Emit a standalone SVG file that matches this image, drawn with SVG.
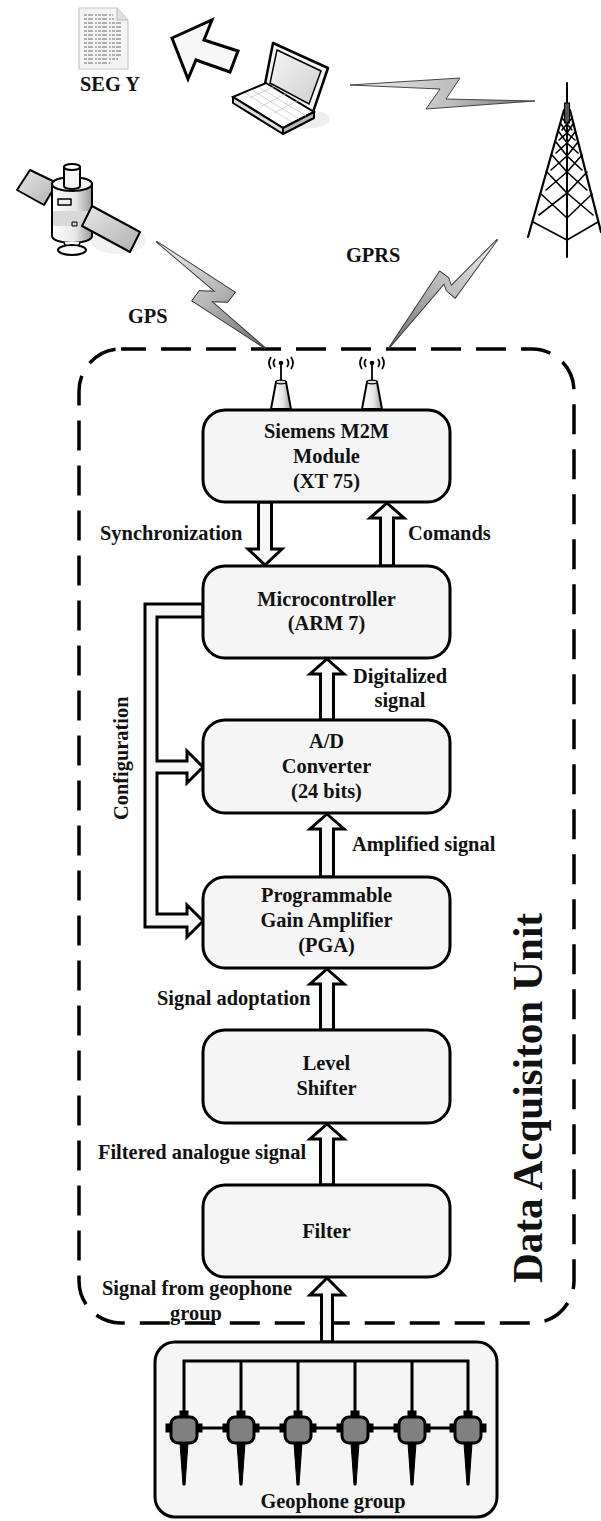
<svg xmlns="http://www.w3.org/2000/svg" width="601" height="1521" viewBox="0 0 601 1521">
  <style>
    .box { fill:#f5f5f5; stroke:#000; stroke-width:3; }
    .arr { fill:#f7f7f7; stroke:#000; stroke-width:3; stroke-linejoin:miter; }
    .t { font-family:"Liberation Serif","Times New Roman",serif; font-weight:bold; font-size:20.4px; fill:#111; }
    .c { text-anchor:middle; }
    .edge { fill:none; stroke:#333; stroke-width:1.8; stroke-linejoin:round; }
    .ln { stroke:#000; fill:none; }
  </style>
  <defs>
    <linearGradient id="boltH" gradientUnits="userSpaceOnUse" x1="350" y1="78" x2="535" y2="110">
      <stop offset="0" stop-color="#f0f0f0"/>
      <stop offset="0.55" stop-color="#bdbdbd"/>
      <stop offset="1" stop-color="#707070"/>
    </linearGradient>
    <linearGradient id="boltGps" gradientUnits="userSpaceOnUse" x1="157" y1="242" x2="265" y2="348">
      <stop offset="0" stop-color="#f0f0f0"/>
      <stop offset="0.5" stop-color="#b8b8b8"/>
      <stop offset="1" stop-color="#6c6c6c"/>
    </linearGradient>
    <linearGradient id="boltGprs" gradientUnits="userSpaceOnUse" x1="497" y1="240" x2="389" y2="348">
      <stop offset="0" stop-color="#eeeeee"/>
      <stop offset="0.5" stop-color="#b8b8b8"/>
      <stop offset="1" stop-color="#6c6c6c"/>
    </linearGradient>
    <linearGradient id="metal" x1="0" y1="0" x2="1" y2="0">
      <stop offset="0" stop-color="#ffffff"/>
      <stop offset="0.6" stop-color="#e6e6e6"/>
      <stop offset="1" stop-color="#9a9a9a"/>
    </linearGradient>
    <linearGradient id="panel" x1="0" y1="0" x2="1" y2="1">
      <stop offset="0" stop-color="#e8e8e8"/>
      <stop offset="1" stop-color="#b0b0b0"/>
    </linearGradient>
    <linearGradient id="screen" x1="0" y1="0" x2="1" y2="1">
      <stop offset="0" stop-color="#f6f6f6"/>
      <stop offset="1" stop-color="#cfcfcf"/>
    </linearGradient>
  </defs>

  <!-- SEG Y document -->
  <g id="segy">
    <path d="M79,8 H117 L128,20 V69 H79 Z" fill="#f3f3f3" stroke="#c8c8c8" stroke-width="1.2"/>
    <path d="M117,8 V20 H128" fill="#e0e0e0" stroke="#bbb" stroke-width="1"/>
    <g stroke="#6f6f6f" stroke-width="1.1" stroke-dasharray="3 1 5 2 2 1">
      <line x1="84" y1="15" x2="113" y2="15"/>
      <line x1="84" y1="19" x2="114" y2="19"/>
      <line x1="84" y1="23" x2="123" y2="23"/>
      <line x1="84" y1="27" x2="123" y2="27"/>
      <line x1="84" y1="31" x2="123" y2="31"/>
      <line x1="84" y1="35" x2="123" y2="35"/>
      <line x1="84" y1="39" x2="123" y2="39"/>
      <line x1="84" y1="43" x2="123" y2="43"/>
      <line x1="84" y1="47" x2="123" y2="47"/>
      <line x1="84" y1="51" x2="123" y2="51"/>
      <line x1="84" y1="55" x2="123" y2="55"/>
      <line x1="84" y1="59" x2="118" y2="59"/>
      <line x1="84" y1="63" x2="110" y2="63"/>
    </g>
    <text class="t" x="80" y="91">SEG Y</text>
  </g>

  <!-- export arrow -->
  <g id="export-arrow">
    <polygon class="arr" points="172,38 212,20 204,40 238,51 230,72 196,60 188,79"/>
  </g>

  <!-- laptop -->
  <g id="laptop">
    <ellipse cx="302" cy="119" rx="28" ry="10" fill="#eeeeee"/>
    <polygon points="273,43 328,68 313,112 265,84" fill="#f4f4f4" stroke="#000" stroke-width="2.5" stroke-linejoin="round"/>
    <polygon points="277,50 321,71 309,104 270,83" fill="url(#screen)" stroke="#000" stroke-width="1.5"/>
    <polygon points="233,97 266,83 314,112 283,128" fill="#ffffff" stroke="#000" stroke-width="2"/>
    <polygon points="233,97 283,128 283,134 233,103" fill="#dcdcdc" stroke="#000" stroke-width="2" stroke-linejoin="round"/>
    <polygon points="283,128 314,112 314,118 283,134" fill="#b8b8b8" stroke="#000" stroke-width="2" stroke-linejoin="round"/>
    <g stroke="#c8c8c8" stroke-width="0.8">
      <line x1="245" y1="93" x2="292" y2="122"/>
      <line x1="252" y1="90" x2="299" y2="119"/>
      <line x1="259" y1="87" x2="306" y2="116"/>
      <line x1="250" y1="98" x2="275" y2="86"/>
      <line x1="262" y1="106" x2="287" y2="93"/>
      <line x1="274" y1="113" x2="299" y2="100"/>
    </g>
  </g>

  <!-- transmission tower -->
  <g id="tower" stroke="#000" fill="none" stroke-linecap="round">
    <line x1="567" y1="83" x2="567" y2="257" stroke-width="2"/>
    <rect x="564.5" y="103" width="5" height="20" fill="#555" stroke-width="1"/>
    <line x1="564" y1="110" x2="528" y2="237" stroke-width="2.2"/>
    <line x1="570" y1="110" x2="601" y2="232" stroke-width="2.2"/>
    <g stroke-width="1.6">
      <polyline points="562,118 567,124 572,118"/>
      <polyline points="561,124 567,133 573,124"/>
      <polyline points="559,132 567,143 575,132"/>
      <polyline points="556,142 567,156 578,142"/>
      <polyline points="552,155 567,172 582,155"/>
      <polyline points="547,172 567,193 587,172"/>
      <polyline points="541,194 567,218 592,194"/>
      <polyline points="533,222 567,240 598,222"/>
      <polyline points="562,130 567,124 572,130"/>
      <polyline points="559,140 567,133 575,140"/>
      <polyline points="556,153 567,143 578,153"/>
      <polyline points="551,170 567,156 582,170"/>
      <polyline points="546,190 567,172 587,190"/>
      <polyline points="539,215 567,193 593,215"/>
    </g>
  </g>

  <!-- satellite -->
  <g id="satellite" stroke="#000" stroke-linejoin="round">
    <ellipse cx="118" cy="240" rx="28" ry="14" fill="#f1f1f1" stroke="none"/>
    <polygon points="17,190 30,170 57,183 44,205" fill="url(#panel)" stroke-width="2"/>
    <path d="M52,184 V236 A20,7 0 0 0 92,236 V184 Z" fill="url(#metal)" stroke-width="2"/>
    <ellipse cx="72" cy="184" rx="20" ry="7" fill="#fafafa" stroke-width="2"/>
    <rect x="53" y="211" width="38" height="15" fill="#d9d9d9" stroke="none"/>
    <path d="M64,167 V186 A8,3 0 0 0 80,186 V167 Z" fill="#f5f5f5" stroke-width="2"/>
    <ellipse cx="72" cy="167" rx="8" ry="3" fill="#fff" stroke-width="2"/>
    <rect x="58" y="199" width="13" height="6" fill="#eee" stroke-width="1.5"/>
    <rect x="72" y="222" width="5" height="4" fill="#ccc" stroke-width="1"/>
    <polygon points="92,206 82,226 130,252 140,232" fill="url(#panel)" stroke-width="2"/>
    <path d="M64,242 L66,248 L78,248 L80,242" fill="#fff" stroke-width="1.5"/>
    <ellipse cx="72" cy="250" rx="14" ry="5" fill="#fff" stroke-width="2"/>
  </g>

  <!-- acquisition unit boundary -->
  <g id="acquisition-unit">
    <rect x="79" y="349" width="495" height="974" rx="42" fill="none" stroke="#000" stroke-width="3.5" stroke-dasharray="30 15" stroke-dashoffset="5"/>
    <text class="t" transform="translate(542,1283) rotate(-90)" style="font-size:42px" textLength="370" lengthAdjust="spacingAndGlyphs">Data Acquisiton Unit</text>
  </g>

  <!-- antennas -->
  <g id="antenna-gps">
    <line class="ln" x1="281" y1="381" x2="281" y2="364" stroke-width="1.8"/>
    <circle cx="281" cy="363" r="2.3" fill="#000"/>
    <path class="ln" stroke-width="1.8" d="M275,359 Q272,363 275,367 M271,357 Q267,363 271,369 M287,359 Q290,363 287,367 M291,357 Q295,363 291,369"/>
    <path d="M276,382 L286,382 L291,409 L271,409 Z" fill="url(#metal)" stroke="#000" stroke-width="2"/>
    <ellipse cx="281" cy="382" rx="5" ry="1.8" fill="#ddd" stroke="#000" stroke-width="1.2"/>
  </g>
  <g id="antenna-gprs">
    <line class="ln" x1="372" y1="381" x2="372" y2="364" stroke-width="1.8"/>
    <circle cx="372" cy="363" r="2.3" fill="#000"/>
    <path class="ln" stroke-width="1.8" d="M366,359 Q363,363 366,367 M362,357 Q358,363 362,369 M378,359 Q381,363 378,367 M382,357 Q386,363 382,369"/>
    <path d="M367,382 L377,382 L382,409 L362,409 Z" fill="url(#metal)" stroke="#000" stroke-width="2"/>
    <ellipse cx="372" cy="382" rx="5" ry="1.8" fill="#ddd" stroke="#000" stroke-width="1.2"/>
  </g>

  <!-- wireless links and data-flow arrows -->
  <g id="connectors">
    <!-- laptop to tower link -->
    <g id="link-laptop-tower">
      <polygon points="350,85 460,78 446,99 535,101 426,109 440,89" fill="url(#boltH)" stroke="#333" stroke-width="0.9"/>
    </g>
    <!-- satellite to GPS antenna link: outline pass, then fill pass -->
    <g id="link-gps">
      <g class="edge">
        <polygon points="157,242 234.6,292.2 227.4,301.8"/>
        <polygon points="199.6,291.2 234.6,292.2 227.4,301.8 192.4,300.8"/>
        <polygon points="199.6,291.2 192.4,300.8 265,348"/>
      </g>
      <g fill="url(#boltGps)">
        <polygon points="157,242 234.6,292.2 227.4,301.8"/>
        <polygon points="199.6,291.2 234.6,292.2 227.4,301.8 192.4,300.8"/>
        <polygon points="199.6,291.2 192.4,300.8 265,348"/>
      </g>
    </g>
    <!-- tower to GPRS antenna link -->
    <g id="link-gprs">
      <g class="edge">
        <polygon points="389,348 439.6,271.7 448.4,278.3"/>
        <polygon points="439.6,271.7 448.4,278.3 455.2,297.6 446.8,290.4"/>
        <polygon points="497,240 455.2,297.6 446.8,290.4"/>
      </g>
      <g fill="url(#boltGprs)">
        <polygon points="389,348 439.6,271.7 448.4,278.3"/>
        <polygon points="439.6,271.7 448.4,278.3 455.2,297.6 446.8,290.4"/>
        <polygon points="497,240 455.2,297.6 446.8,290.4"/>
      </g>
    </g>

    <!-- Siemens / microcontroller -->
    <polygon class="arr" points="265,565 282,549 271.5,549 271.5,502 258.5,502 258.5,549 248,549"/>
    <polygon class="arr" points="387,503 404,518 393.5,518 393.5,566 380.5,566 380.5,518 370,518"/>
    <!-- signal chain -->
    <polygon class="arr" points="327,659 344,674 333.5,674 333.5,720 320.5,720 320.5,674 310,674"/>
    <polygon class="arr" points="327,814 344,829 333.5,829 333.5,877 320.5,877 320.5,829 310,829"/>
    <polygon class="arr" points="327,969 344,984 333.5,984 333.5,1030 320.5,1030 320.5,984 310,984"/>
    <polygon class="arr" points="327,1124 344,1139 333.5,1139 333.5,1185 320.5,1185 320.5,1139 310,1139"/>
    <polygon class="arr" points="327,1278 344,1295 332.5,1295 332.5,1342 321.5,1342 321.5,1295 310,1295"/>
    <!-- configuration bus -->
    <path class="arr" d="M203,604 L145,604 L145,927 L187,927 L187,937 L203,921 L187,905 L187,914 L157,914 L157,773 L187,773 L187,783 L203,767 L187,751 L187,761 L157,761 L157,617 L203,617 Z"/>

    <text class="t" x="100" y="540">Synchronization</text>
    <text class="t" x="408" y="540">Comands</text>
    <text class="t c" x="400" y="683">Digitalized</text>
    <text class="t c" x="400" y="707">signal</text>
    <text class="t" x="352" y="851">Amplified signal</text>
    <text class="t" x="157" y="1005">Signal adoptation</text>
    <text class="t" x="98" y="1159">Filtered analogue signal</text>
    <text class="t c" x="197" y="1295">Signal from geophone</text>
    <text class="t c" x="196" y="1320">group</text>
    <text class="t" transform="translate(128,820) rotate(-90)">Configuration</text>
    <text class="t" x="128" y="323">GPS</text>
    <text class="t" x="346" y="262">GPRS</text>
  </g>

  <!-- processing blocks -->
  <g id="siemens">
    <rect class="box" x="203" y="410" width="247" height="92" rx="22"/>
    <text class="t c" x="326.5" y="438">Siemens M2M</text>
    <text class="t c" x="326.5" y="463">Module</text>
    <text class="t c" x="326.5" y="488">(XT 75)</text>
  </g>
  <g id="microcontroller">
    <rect class="box" x="203" y="566" width="247" height="92" rx="22"/>
    <text class="t c" x="326.5" y="606">Microcontroller</text>
    <text class="t c" x="326.5" y="630">(ARM 7)</text>
  </g>
  <g id="adc">
    <rect class="box" x="203" y="720" width="247" height="93" rx="22"/>
    <text class="t c" x="326.5" y="748">A/D</text>
    <text class="t c" x="326.5" y="773">Converter</text>
    <text class="t c" x="326.5" y="798">(24 bits)</text>
  </g>
  <g id="pga">
    <rect class="box" x="203" y="877" width="247" height="91" rx="22"/>
    <text class="t c" x="326.5" y="902">Programmable</text>
    <text class="t c" x="326.5" y="927">Gain Amplifier</text>
    <text class="t c" x="326.5" y="952">(PGA)</text>
  </g>
  <g id="level-shifter">
    <rect class="box" x="203" y="1030" width="247" height="93" rx="22"/>
    <text class="t c" x="326.5" y="1070">Level</text>
    <text class="t c" x="326.5" y="1095">Shifter</text>
  </g>
  <g id="filter">
    <rect class="box" x="203" y="1185" width="247" height="92" rx="22"/>
    <text class="t c" x="326.5" y="1238">Filter</text>
  </g>

  <!-- geophone string -->
  <g id="geophone-group">
    <rect class="box" x="155" y="1342" width="342" height="175" rx="20"/>
    <g stroke="#000" stroke-width="3" fill="none">
      <polyline points="184,1417 184,1361 468,1361 468,1417"/>
      <line x1="241" y1="1361" x2="241" y2="1417"/>
      <line x1="298" y1="1361" x2="298" y2="1417"/>
      <line x1="355" y1="1361" x2="355" y2="1417"/>
      <line x1="412" y1="1361" x2="412" y2="1417"/>
      <line x1="184" y1="1428" x2="468" y2="1428"/>
    </g>
    <g id="geophones" stroke="#000" stroke-width="3">
      <g transform="translate(184,0)">
        <rect x="-3" y="1412" width="6" height="5" fill="#000"/><rect x="-17" y="1425" width="5" height="6" fill="#000"/><rect x="12" y="1425" width="5" height="6" fill="#000"/>
        <rect x="-13" y="1417" width="26" height="26" rx="7" fill="#808080"/>
        <polygon points="-4,1443 4,1443 1,1485 -1,1485" fill="#000" stroke-width="1"/>
      </g>
      <g transform="translate(241,0)">
        <rect x="-3" y="1412" width="6" height="5" fill="#000"/><rect x="-17" y="1425" width="5" height="6" fill="#000"/><rect x="12" y="1425" width="5" height="6" fill="#000"/>
        <rect x="-13" y="1417" width="26" height="26" rx="7" fill="#808080"/>
        <polygon points="-4,1443 4,1443 1,1485 -1,1485" fill="#000" stroke-width="1"/>
      </g>
      <g transform="translate(298,0)">
        <rect x="-3" y="1412" width="6" height="5" fill="#000"/><rect x="-17" y="1425" width="5" height="6" fill="#000"/><rect x="12" y="1425" width="5" height="6" fill="#000"/>
        <rect x="-13" y="1417" width="26" height="26" rx="7" fill="#808080"/>
        <polygon points="-4,1443 4,1443 1,1485 -1,1485" fill="#000" stroke-width="1"/>
      </g>
      <g transform="translate(355,0)">
        <rect x="-3" y="1412" width="6" height="5" fill="#000"/><rect x="-17" y="1425" width="5" height="6" fill="#000"/><rect x="12" y="1425" width="5" height="6" fill="#000"/>
        <rect x="-13" y="1417" width="26" height="26" rx="7" fill="#808080"/>
        <polygon points="-4,1443 4,1443 1,1485 -1,1485" fill="#000" stroke-width="1"/>
      </g>
      <g transform="translate(412,0)">
        <rect x="-3" y="1412" width="6" height="5" fill="#000"/><rect x="-17" y="1425" width="5" height="6" fill="#000"/><rect x="12" y="1425" width="5" height="6" fill="#000"/>
        <rect x="-13" y="1417" width="26" height="26" rx="7" fill="#808080"/>
        <polygon points="-4,1443 4,1443 1,1485 -1,1485" fill="#000" stroke-width="1"/>
      </g>
      <g transform="translate(468,0)">
        <rect x="-3" y="1412" width="6" height="5" fill="#000"/><rect x="-17" y="1425" width="5" height="6" fill="#000"/><rect x="12" y="1425" width="5" height="6" fill="#000"/>
        <rect x="-13" y="1417" width="26" height="26" rx="7" fill="#808080"/>
        <polygon points="-4,1443 4,1443 1,1485 -1,1485" fill="#000" stroke-width="1"/>
      </g>
    </g>
    <text class="t c" x="333" y="1508">Geophone group</text>
  </g>
</svg>
